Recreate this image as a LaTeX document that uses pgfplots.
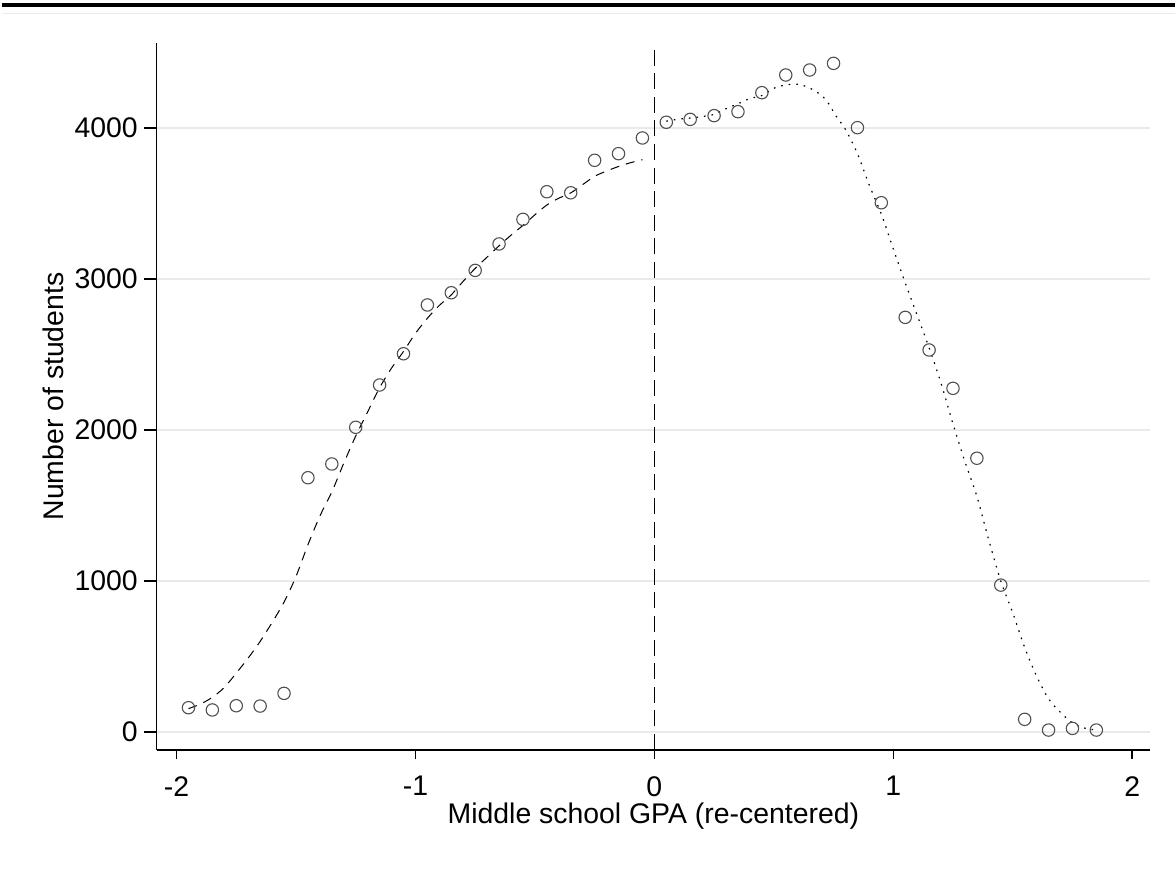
\documentclass[border=0pt]{standalone}
\usepackage{pgfplots}
\pgfplotsset{compat=1.18}
\usepackage{pgfplotstable}
\usepackage{fontspec}
\setmainfont{Liberation Sans}
\definecolor{gridgray}{RGB}{234,234,234}
\definecolor{mkgray}{RGB}{80,80,80}

\pgfplotstableread{
x y
-1.95 161
-1.85 146
-1.75 174
-1.65 172
-1.55 256
-1.45 1684
-1.35 1775
-1.25 2018
-1.15 2298
-1.05 2505
-0.95 2828
-0.85 2909
-0.75 3057
-0.65 3232
-0.55 3395
-0.45 3578
-0.35 3571
-0.25 3786
-0.15 3830
-0.05 3934
0.05 4038
0.15 4057
0.25 4082
0.35 4108
0.45 4234
0.55 4351
0.65 4384
0.75 4428
0.85 4002
0.95 3505
1.05 2746
1.15 2530
1.25 2276
1.35 1813
1.45 973
1.55 84
1.65 13
1.75 24
1.85 13
}\bins

\pgfplotstableread{
x y
-1.95 155
-1.90 185
-1.85 230
-1.80 295
-1.75 390
-1.70 490
-1.65 600
-1.60 725
-1.55 860
-1.50 1030
-1.45 1240
-1.40 1430
-1.35 1590
-1.30 1780
-1.25 1960
-1.20 2120
-1.15 2280
-1.10 2410
-1.05 2520
-1.00 2640
-0.95 2740
-0.90 2825
-0.85 2895
-0.80 2985
-0.75 3070
-0.70 3145
-0.65 3220
-0.60 3290
-0.55 3355
-0.50 3425
-0.45 3490
-0.40 3535
-0.35 3570
-0.30 3625
-0.25 3680
-0.20 3715
-0.15 3745
-0.10 3770
-0.05 3790
}\leftfit

\pgfplotstableread{
x y
0.05 4045
0.10 4058
0.15 4066
0.20 4076
0.25 4090
0.30 4128
0.35 4160
0.40 4195
0.45 4215
0.50 4263
0.55 4285
0.60 4290
0.65 4265
0.70 4215
0.73 4160
0.76 4080
0.80 3990
0.85 3830
0.90 3620
0.95 3430
1.00 3200
1.05 2975
1.10 2760
1.15 2545
1.20 2310
1.25 2040
1.30 1790
1.35 1560
1.40 1270
1.45 1000
1.50 790
1.55 560
1.60 370
1.65 220
1.70 130
1.75 60
1.80 26
1.85 13
}\rightfit

\begin{document}
\begin{tikzpicture}
\begin{axis}[
  at={(0pt,0pt)}, anchor=south west,
  scale only axis,
  width=496.7pt, height=353.5pt,
  xmin=-2.083, xmax=2.075,
  ymin=-119, ymax=4563,
  axis x line*=bottom, axis y line*=left,
  axis line style={line width=0.75pt, -},
  xtick={-2,-1,0,1,2},
  ytick={0,1000,2000,3000,4000},
  tick align=outside,
  major tick length=6.3pt,
  tick style={line width=0.75pt, black},
  xtick style={/pgfplots/major tick length=4.5pt},
  ymajorgrids,
  major grid style={line width=0.75pt, gridgray},
  /pgf/number format/assume math mode=true,
  /pgf/number format/1000 sep={},
  ticklabel style={font=\fontsize{14.2}{16}\selectfont, inner sep=0pt},
  yticklabel style={anchor=east, xshift=-3pt},
  xticklabel style={anchor=north, yshift=-6.6pt},
  xlabel={Middle school GPA (re-centered)},
  ylabel={Number of students},
  label style={font=\fontsize{14.2}{16}\selectfont, inner sep=0pt},
  xlabel style={at={(axis description cs:0.5,0)}, anchor=base, yshift=-37pt},
  ylabel style={at={(axis description cs:0,0.5)}, anchor=base, yshift=46.7pt},
  clip=false,
]
\addplot[only marks, mark=o, mark size=3.1pt, mark options={draw=mkgray, line width=0.55pt}] table[x=x,y=y]{\bins};
\addplot[black, line width=0.5pt, smooth, dash pattern=on 4.5pt off 3.5pt] table[x=x,y=y]{\leftfit};
\addplot[black, line width=0.6pt, smooth, dash pattern=on 0.8pt off 3pt] table[x=x,y=y]{\rightfit};
\addplot[black, line width=0.7pt, dash pattern=on 8pt off 3.8pt] coordinates {(0,-119) (0,4563)};
\end{axis}
\pgfresetboundingbox
\path[use as bounding box] (-78.35pt,-60pt) rectangle (509.15pt,375pt);
\draw[line width=2pt, black] (-77.5pt,372.65pt) -- (509.15pt,372.65pt);
\draw[line width=0.6pt, gridgray] (-76.8pt,368.35pt) -- (509.15pt,368.35pt);
\end{tikzpicture}
\end{document}
